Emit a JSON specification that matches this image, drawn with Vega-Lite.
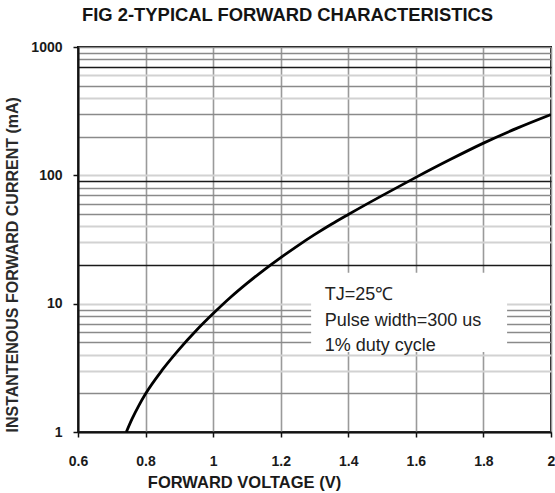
{
  "$schema": "https://vega.github.io/schema/vega-lite/v6.json",
  "width": 473,
  "height": 385,
  "autosize": {"type": "none"},
  "padding": {"left": 78, "top": 47, "right": 4, "bottom": 61},
  "background": "white",
  "config": {
    "view": {"stroke": "#111111", "strokeWidth": 2},
    "font": "Liberation Sans"
  },
  "title": {
    "text": "FIG 2-TYPICAL FORWARD CHARACTERISTICS",
    "anchor": "start",
    "frame": "group",
    "dx": 4,
    "offset": 1,
    "baseline": "alphabetic",
    "fontSize": 18.4,
    "fontWeight": "bold",
    "color": "#141414",
    "font": "Liberation Sans"
  },
  "datasets": {
    "curve": [
      {"v": 0.743, "i": 1.0},
      {"v": 0.76, "i": 1.265},
      {"v": 0.78, "i": 1.607},
      {"v": 0.80, "i": 1.986},
      {"v": 0.85, "i": 3.06},
      {"v": 0.90, "i": 4.43},
      {"v": 0.95, "i": 6.18},
      {"v": 1.00, "i": 8.37},
      {"v": 1.05, "i": 11.12},
      {"v": 1.10, "i": 14.39},
      {"v": 1.15, "i": 18.28},
      {"v": 1.20, "i": 22.86},
      {"v": 1.25, "i": 28.25},
      {"v": 1.30, "i": 34.51},
      {"v": 1.35, "i": 41.59},
      {"v": 1.40, "i": 49.55},
      {"v": 1.50, "i": 69.5},
      {"v": 1.60, "i": 96.4},
      {"v": 1.70, "i": 132.1},
      {"v": 1.80, "i": 178.2},
      {"v": 1.90, "i": 233.3},
      {"v": 2.00, "i": 297.9}
    ],
    "note": [{"label": "note"}]
  },
  "layer": [
    {
      "data": {"name": "curve"},
      "mark": {"type": "line", "color": "#000000", "strokeWidth": 2.8, "interpolate": "monotone", "clip": true},
      "encoding": {
        "x": {
          "field": "v",
          "type": "quantitative",
          "scale": {"domain": [0.6, 2.0], "nice": false, "zero": false},
          "axis": {
            "title": "FORWARD VOLTAGE (V)",
            "values": [0.6, 0.8, 1, 1.2, 1.4, 1.6, 1.8, 2],
            "format": "~g",
            "grid": true,
            "gridColor": "#9a9a9a",
            "gridWidth": 1.6,
            "domainColor": "#111111",
            "domainWidth": 2,
            "tickColor": "#111111",
            "tickWidth": 1.5,
            "tickSize": 5,
            "labelPadding": 17,
            "labelFontSize": 14,
            "labelFontWeight": "bold",
            "labelColor": "#1a1a1a",
            "labelFlush": false,
            "labelOverlap": false,
            "labelBound": false,
            "titleFontSize": 16.5,
            "titleFontWeight": "bold",
            "titleColor": "#1a1a1a",
            "titleX": 166,
            "titleY": 50,
            "titleBaseline": "middle",
            "titleAlign": "center"
          }
        },
        "y": {
          "field": "i",
          "type": "quantitative",
          "scale": {"type": "log", "domain": [1, 1000], "nice": false},
          "axis": {
            "title": "INSTANTENOUS FORWARD CURRENT (mA)",
            "values": [1, 2, 3, 4, 5, 6, 7, 8, 9, 10, 20, 30, 40, 50, 60, 70, 80, 90, 100, 200, 300, 400, 500, 600, 700, 800, 900, 1000],
            "labelExpr": "(datum.value == 1 || datum.value == 10 || datum.value == 100 || datum.value == 1000) ? format(datum.value, 'd') : ''",
            "grid": true,
            "gridColor": {
              "condition": [
                {"test": "datum.value == 20 || datum.value == 90 || datum.value == 700", "value": "#1a1a1a"},
                {"test": "indexof([3, 4, 10, 30, 40, 100, 400, 600], datum.value) >= 0", "value": "#d2d2d2"}
              ],
              "value": "#8a8a8a"
            },
            "gridWidth": {
              "condition": {"test": "indexof([3, 4, 10, 30, 40, 100, 400, 600], datum.value) >= 0", "value": 2.2},
              "value": 1.4
            },
            "tickOpacity": {
              "condition": {"test": "datum.value == 1 || datum.value == 10 || datum.value == 100 || datum.value == 1000", "value": 1},
              "value": 0
            },
            "domainColor": "#111111",
            "domainWidth": 2,
            "tickColor": "#111111",
            "tickWidth": 1.5,
            "tickSize": 5,
            "labelPadding": 11,
            "labelFontSize": 14,
            "labelFontWeight": "bold",
            "labelColor": "#1a1a1a",
            "labelOverlap": false,
            "labelBound": false,
            "titleFontSize": 16,
            "titleFontWeight": "bold",
            "titleColor": "#2a2a2a",
            "titleAnchor": "start",
            "titlePadding": 10
          }
        }
      }
    },
    {
      "data": {"name": "note"},
      "mark": {"type": "rect", "color": "white"},
      "encoding": {
        "x": {"datum": 1.29, "type": "quantitative"},
        "x2": {"datum": 1.87},
        "y": {"datum": 4.2, "type": "quantitative"},
        "y2": {"datum": 17.4}
      }
    },
    {
      "data": {"name": "note"},
      "mark": {"type": "text", "align": "left", "baseline": "middle", "fontSize": 18, "lineHeight": 25.5, "color": "#222222", "font": "Liberation Sans"},
      "encoding": {
        "x": {"datum": 1.33, "type": "quantitative"},
        "y": {"datum": 11.67, "type": "quantitative"},
        "text": {"value": ["TJ=25℃", "Pulse width=300 us", "1% duty cycle"]}
      }
    }
  ]
}
